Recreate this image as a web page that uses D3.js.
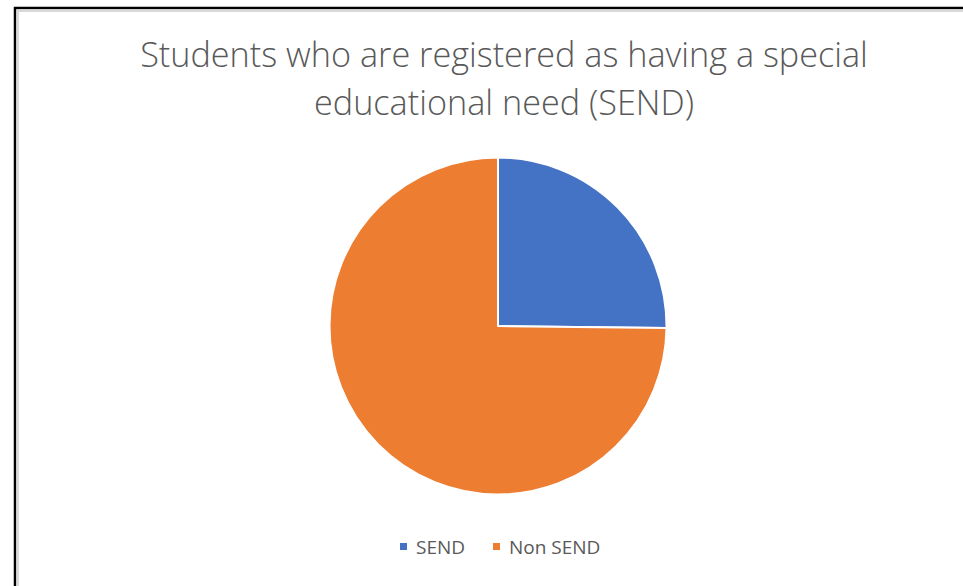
<!DOCTYPE html>
<html><head><meta charset="utf-8">
<script src="https://cdn.jsdelivr.net/npm/d3@7"></script>
<style>body{margin:0;background:#fff;}svg{display:block;}</style>
</head><body>
<svg id="chart" width="963" height="586"></svg>
<script>
const categories = ["SEND", "Non SEND"];
const values = [25.2, 74.8];
const colors = ["#4472C4", "#ED7D31"];
const titleLines = ["Students who are registered as having a special", "educational need (SEND)"];

const svg = d3.select("#chart");
const W = 963, H = 586;
svg.append("rect").attr("width", W).attr("height", H).attr("fill", "#fff");

// frame: outer black, inner light grey
svg.append("path").attr("d", `M15,${H} V8 H${W}`).attr("fill", "none").attr("stroke", "#000").attr("stroke-width", 2.5);
svg.append("path").attr("d", `M17.8,${H} V10.8 H${W}`).attr("fill", "none").attr("stroke", "#d9d9d9").attr("stroke-width", 2.5);

// title
const fontFam = "'Open Sans', 'Noto Sans', sans-serif";
const title = svg.append("g");
titleLines.forEach((t, i) => {
  title.append("text").attr("x", 504).attr("y", 67 + i * 48)
    .attr("text-anchor", "middle").attr("fill", "#595959")
    .style("font-family", fontFam).style("font-weight", 300).style("font-size", "30px").text(t);
});
const n0 = title.select("text").node();
const w0 = n0.getComputedTextLength();
const fs = 30 * 728 / w0;
title.selectAll("text").style("font-size", fs + "px");

// pie
const cx = 498, cy = 326, r = 168.5;
const pie = d3.pie().sort(null).value(d => d.v);
const arc = d3.arc().innerRadius(0).outerRadius(r);
const data = categories.map((c, i) => ({c, v: values[i], col: colors[i]}));
svg.append("g").attr("transform", `translate(${cx},${cy})`)
  .selectAll("path").data(pie(data)).join("path")
  .attr("d", arc).attr("fill", d => d.data.col)
  .attr("stroke", "#fff").attr("stroke-width", 2).attr("stroke-linejoin", "round");

// legend
const legend = svg.append("g");
const lx = [400, 493];
data.forEach((d, i) => {
  legend.append("rect").attr("x", lx[i]).attr("y", 543).attr("width", 7).attr("height", 7).attr("fill", d.col);
  legend.append("text").attr("x", lx[i] + 16).attr("y", 553.5).attr("fill", "#595959")
    .style("font-family", fontFam).style("font-size", "19px").text(d.c);
});
</script>
</body></html>
